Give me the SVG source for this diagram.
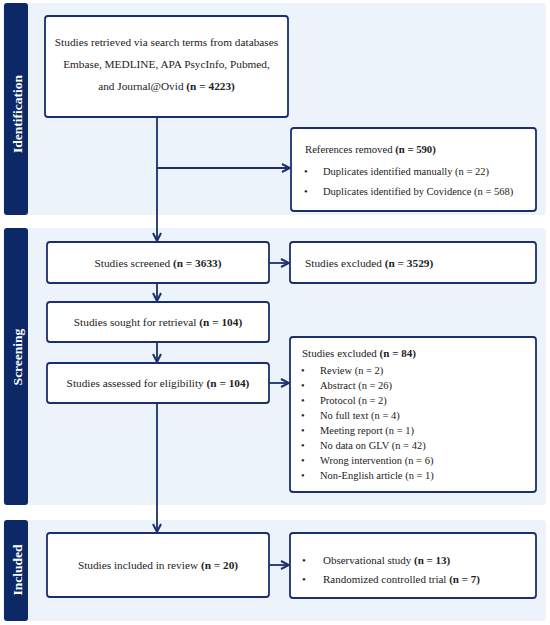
<svg xmlns="http://www.w3.org/2000/svg" width="550" height="625" viewBox="0 0 550 625">
<defs>
<marker id="ah" viewBox="0 0 10 10" refX="9" refY="5" markerWidth="10" markerHeight="10" markerUnits="userSpaceOnUse" orient="auto">
<path d="M1,1 L9,5 L1,9" fill="none" stroke="#1b2f6e" stroke-width="2"/>
</marker>
<style>
.panel{fill:#edf3fb}
.tab{fill:#0c2867}
.tabt{fill:#fff;font-family:'Liberation Serif','Times New Roman',serif;font-weight:bold;font-size:13.5px;text-anchor:middle}
.box{fill:#fff;stroke:#1b2f6e;stroke-width:1.8}
.t{font-family:'Liberation Serif','Times New Roman',serif;font-size:11.3px;fill:#222}
.s{font-size:10.5px}
.c{text-anchor:middle}
.b{font-weight:bold}
.ln{fill:none;stroke:#1b2f6e;stroke-width:1.8}
</style>
</defs>
<rect width="550" height="625" fill="#fff"/>
<g id="panels">
<rect class="panel" x="3" y="3" width="543" height="212" rx="4"/>
<rect class="panel" x="3" y="228" width="543" height="277" rx="4"/>
<rect class="panel" x="3" y="520" width="543" height="101" rx="4"/>
<rect class="tab" x="4" y="3" width="24" height="212" rx="3"/>
<rect class="tab" x="4" y="228" width="24" height="277" rx="3"/>
<rect class="tab" x="4" y="520" width="24" height="101" rx="3"/>
<text class="tabt" transform="translate(21.5,114) rotate(-90)">Identification</text>
<text class="tabt" transform="translate(21.5,357) rotate(-90)">Screening</text>
<text class="tabt" transform="translate(21.5,570) rotate(-90)">Included</text>
</g>
<g id="connectors">
<path class="ln" d="M157,117 V241" marker-end="url(#ah)"/>
<path class="ln" d="M157,168 H290" marker-end="url(#ah)"/>
<path class="ln" d="M157,283 V301" marker-end="url(#ah)"/>
<path class="ln" d="M157,342 V362" marker-end="url(#ah)"/>
<path class="ln" d="M157,403 V532" marker-end="url(#ah)"/>
<path class="ln" d="M269,263 H289" marker-end="url(#ah)"/>
<path class="ln" d="M269,383 H289" marker-end="url(#ah)"/>
<path class="ln" d="M269,565 H289" marker-end="url(#ah)"/>
</g>
<g id="n-retrieved">
<rect class="box" x="45" y="16" width="243" height="101" rx="3"/>
<text class="t c" x="166.5" y="46">Studies retrieved via search terms from databases</text>
<text class="t c" x="166.5" y="68">Embase, MEDLINE, APA PsycInfo, Pubmed,</text>
<text class="t c" x="166.5" y="90">and Journal@Ovid <tspan class="b">(n = 4223)</tspan></text>
</g>
<g id="n-removed">
<rect class="box" x="291" y="128" width="245" height="83" rx="3"/>
<text class="t" x="305" y="153" style="font-size:10.7px">References removed <tspan class="b">(n = 590)</tspan></text>
<g class="t s">
<text x="304" y="175">•</text>
<text x="323" y="175">Duplicates identified manually (n = 22)</text>
<text x="304" y="195">•</text>
<text x="323" y="195">Duplicates identified by Covidence (n = 568)</text>
</g>
</g>
<g id="n-screened">
<rect class="box" x="47" y="242" width="222" height="41" rx="3"/>
<text class="t c" x="158" y="267">Studies screened <tspan class="b">(n = 3633)</tspan></text>
</g>
<g id="n-excluded1">
<rect class="box" x="290" y="242" width="246" height="41" rx="3"/>
<text class="t" x="305" y="267">Studies excluded <tspan class="b">(n = 3529)</tspan></text>
</g>
<g id="n-sought">
<rect class="box" x="47" y="302" width="222" height="40" rx="3"/>
<text class="t c" x="158" y="326">Studies sought for retrieval <tspan class="b">(n = 104)</tspan></text>
</g>
<g id="n-assessed">
<rect class="box" x="47" y="363" width="222" height="40" rx="3"/>
<text class="t c" x="158" y="387">Studies assessed for eligibility <tspan class="b">(n = 104)</tspan></text>
</g>
<g id="n-excluded2">
<rect class="box" x="290" y="337" width="246" height="155" rx="3"/>
<text class="t" x="302" y="357" style="font-size:11px">Studies excluded <tspan class="b">(n = 84)</tspan></text>
<g class="t s">
<text x="301" y="374">•</text><text x="320" y="374">Review (n = 2)</text>
<text x="301" y="389">•</text><text x="320" y="389">Abstract (n = 26)</text>
<text x="301" y="404">•</text><text x="320" y="404">Protocol (n = 2)</text>
<text x="301" y="419">•</text><text x="320" y="419">No full text (n = 4)</text>
<text x="301" y="434">•</text><text x="320" y="434">Meeting report (n = 1)</text>
<text x="301" y="449">•</text><text x="320" y="449">No data on GLV (n = 42)</text>
<text x="301" y="464">•</text><text x="320" y="464">Wrong intervention (n = 6)</text>
<text x="301" y="479">•</text><text x="320" y="479">Non-English article (n = 1)</text>
</g>
</g>
<g id="n-included">
<rect class="box" x="47" y="533" width="222" height="64" rx="3"/>
<text class="t c" x="158" y="569">Studies included in review <tspan class="b">(n = 20)</tspan></text>
</g>
<g id="n-types">
<rect class="box" x="290" y="533" width="246" height="65" rx="3"/>
<g class="t" style="font-size:11px">
<text x="302" y="564">•</text><text x="323" y="564">Observational study <tspan class="b">(n = 13)</tspan></text>
<text x="302" y="583">•</text><text x="323" y="583">Randomized controlled trial <tspan class="b">(n = 7)</tspan></text>
</g>
</g>
</svg>
